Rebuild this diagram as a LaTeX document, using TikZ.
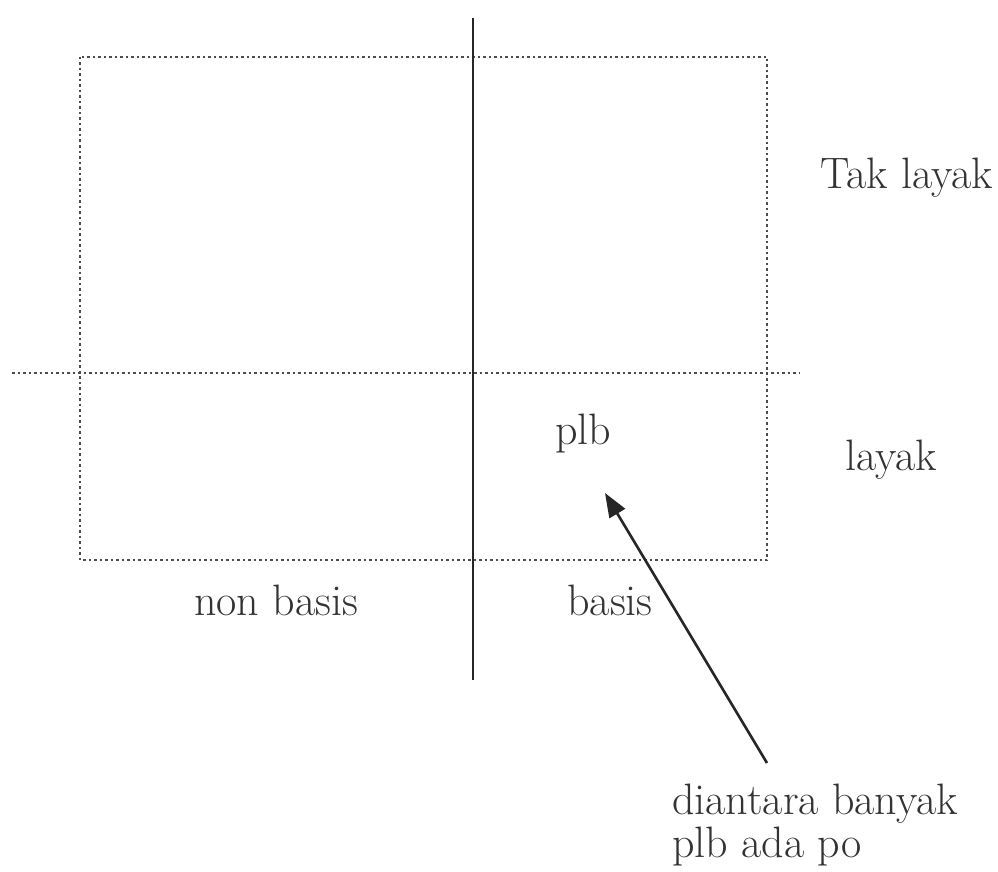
\documentclass[tikz,border=0pt]{standalone}
\usetikzlibrary{arrows.meta}
\begin{document}
\begin{tikzpicture}[x=1pt,y=-1pt,
  dotline/.style={line width=2pt, dash pattern=on 2.5pt off 3pt, black!70},
  solidline/.style={line width=2pt, black!85},
  lbl/.style={font=\fontsize{44}{43}\selectfont, text=black!80, inner sep=0pt},
  arr/.style={line width=2.6pt, black!85, -{Triangle[length=24pt,width=18pt]}}]
\useasboundingbox (0,0) rectangle (998,872);
% dotted rectangle
\draw[dotline] (80,57) rectangle (767,560);
% dotted horizontal line
\coordinate (hl) at (12,373);
\coordinate (hr) at (800,373);
\draw[dotline] (hl) -- (hr);
% solid vertical line
\coordinate (vt) at (473,18);
\coordinate (vb) at (473,680);
\draw[solidline] (vt) -- (vb);
% labels
\node[lbl] (tak) at (907,178) {Tak layak};
\node[lbl] (layak) at (891,460) {layak};
\node[lbl] (plb) at (583,434) {plb};
\node[lbl] (nonbasis) at (276,600) {non basis};
\node[lbl] (basis) at (610,600) {basis};
\node[lbl, align=left, anchor=north west] (note) at (672,784) {diantara banyak\\plb ada po};
% arrow
\coordinate (tip) at (605,493);
\coordinate (tail) at (767,763);
\draw[arr] (tail) -- (tip);
\end{tikzpicture}
\end{document}
